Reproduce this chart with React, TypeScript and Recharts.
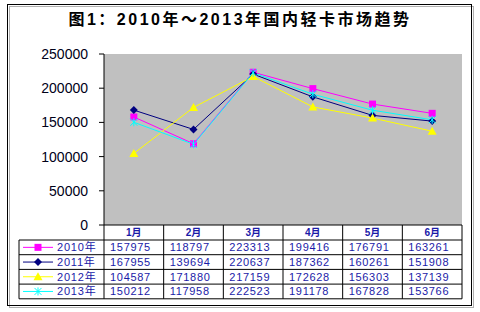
import React from "react";
import {
  LineChart,
  Line,
  XAxis,
  YAxis,
  CartesianGrid,
} from "recharts";

const months = ["1月", "2月", "3月", "4月", "5月", "6月"];
const sales2010 = [157975, 118797, 223313, 199416, 176791, 163261];
const sales2011 = [167955, 139694, 220637, 187362, 160261, 151908];
const sales2012 = [104587, 171880, 217159, 172628, 156303, 137139];
const sales2013 = [150212, 117958, 222523, 191178, 167828, 153766];
const yTicks = [0, 50000, 100000, 150000, 200000, 250000];

type Shape = "square" | "diamond" | "triangle" | "star";

const series: { key: string; name: string; color: string; shape: Shape; values: number[] }[] = [
  { key: "y2010", name: "2010年", color: "#FF00FF", shape: "square", values: sales2010 },
  { key: "y2011", name: "2011年", color: "#000080", shape: "diamond", values: sales2011 },
  { key: "y2012", name: "2012年", color: "#FFFF00", shape: "triangle", values: sales2012 },
  { key: "y2013", name: "2013年", color: "#00FFFF", shape: "star", values: sales2013 },
];

const data = months.map((m, i) => {
  const row: Record<string, string | number> = { month: m };
  series.forEach((s) => (row[s.key] = s.values[i]));
  return row;
});

const W = 480;
const H = 312;
const PLOT_L = 104;
const PLOT_R = 462;
const PLOT_T = 54;
const PLOT_B = 225;
const HEAD_B = 240;
const ROW_H = 14.7;
const TABLE_L = 19;
const TEXT_BLUE = "#1A1AA8";
const CJK = "'Liberation Sans', Arial, 'Noto Sans CJK SC', sans-serif";

function Marker({ cx, cy, shape, color }: { cx: number; cy: number; shape: Shape; color: string }) {
  if (cx == null || cy == null) return null;
  if (shape === "square") {
    return <rect x={cx - 3.5} y={cy - 3.5} width={7} height={7} fill={color} />;
  }
  if (shape === "diamond") {
    return (
      <polygon
        points={`${cx},${cy - 4} ${cx + 4},${cy} ${cx},${cy + 4} ${cx - 4},${cy}`}
        fill={color}
      />
    );
  }
  if (shape === "triangle") {
    return (
      <polygon
        points={`${cx},${cy - 4.5} ${cx + 4.5},${cy + 3.5} ${cx - 4.5},${cy + 3.5}`}
        fill={color}
      />
    );
  }
  return (
    <g stroke={color} strokeWidth={1}>
      <line x1={cx - 3.5} y1={cy - 3.5} x2={cx + 3.5} y2={cy + 3.5} />
      <line x1={cx - 3.5} y1={cy + 3.5} x2={cx + 3.5} y2={cy - 3.5} />
      <line x1={cx} y1={cy - 4} x2={cx} y2={cy + 4} />
    </g>
  );
}

function MonthTick(props: any) {
  const { x, payload } = props;
  return (
    <text
      x={x}
      y={PLOT_B + 11}
      textAnchor="middle"
      fontSize={10}
      fontWeight="bold"
      fill={TEXT_BLUE}
      fontFamily={CJK}
    >
      {payload.value}
    </text>
  );
}

function Table() {
  const colW = (PLOT_R - PLOT_L) / months.length;
  const rowTop = (i: number) => HEAD_B + i * ROW_H;
  const tableB = rowTop(series.length);
  return (
    <g>
      {/* header row verticals */}
      {months.map((_, i) => (
        <line
          key={"v" + i}
          x1={PLOT_L + i * colW}
          y1={PLOT_B}
          x2={PLOT_L + i * colW}
          y2={tableB}
          stroke="#000"
        />
      ))}
      <line x1={PLOT_R} y1={PLOT_B} x2={PLOT_R} y2={tableB} stroke="#000" />
      <line x1={TABLE_L} y1={HEAD_B} x2={TABLE_L} y2={tableB} stroke="#000" />
      {series.map((_, r) => (
        <line
          key={"h" + r}
          x1={TABLE_L}
          y1={rowTop(r)}
          x2={PLOT_R}
          y2={rowTop(r)}
          stroke="#000"
        />
      ))}
      <line x1={TABLE_L} y1={tableB} x2={PLOT_R} y2={tableB} stroke="#000" />
      {series.map((s, r) => {
        const cy = rowTop(r) + ROW_H / 2;
        return (
          <g key={s.key}>
            <line x1={23} y1={cy} x2={53} y2={cy} stroke={s.color} strokeWidth={1} />
            <Marker cx={38} cy={cy} shape={s.shape} color={s.color} />
            <text
              x={57}
              y={cy + 4}
              fontSize={11}
              letterSpacing={0.8}
              fill={TEXT_BLUE}
              fontFamily={CJK}
            >
              {s.name}
            </text>
            {s.values.map((v, c) => (
              <text
                key={c}
                x={PLOT_L + c * colW + 6}
                y={cy + 4}
                fontSize={11}
                letterSpacing={0.7}
                fill={TEXT_BLUE}
                fontFamily={CJK}
              >
                {v}
              </text>
            ))}
          </g>
        );
      })}
    </g>
  );
}

export default function App() {
  return (
    <div
      style={{
        position: "absolute",
        left: 0,
        top: 0,
        width: W,
        height: H,
        background: "#fff",
      }}
    >
      <LineChart
        width={W}
        height={H}
        data={data}
        margin={{ top: PLOT_T, right: W - PLOT_R, bottom: H - PLOT_B - 15, left: PLOT_L - 70 }}
      >
        <CartesianGrid fill="#C0C0C0" horizontal={false} vertical={false} stroke="none" />
        <XAxis
          dataKey="month"
          scale="band"
          height={15}
          axisLine={{ stroke: "#000" }}
          tickLine={false}
          tick={<MonthTick />}
          interval={0}
        />
        <YAxis
          width={70}
          domain={[0, 250000]}
          ticks={yTicks}
          interval={0}
          axisLine={{ stroke: "#000" }}
          tickLine={{ stroke: "#000" }}
          tickSize={5}
          tickMargin={11}
          tick={{ fill: "#000018", fontSize: 14, fontFamily: "'Liberation Sans', Arial, sans-serif" }}
        />
        {series.map((s) => (
          <Line
            key={s.key}
            dataKey={s.key}
            name={s.name}
            type="linear"
            stroke={s.color}
            strokeWidth={1}
            isAnimationActive={false}
            dot={(p: any) => (
              <Marker key={s.key + p.index} cx={p.cx} cy={p.cy} shape={s.shape} color={s.color} />
            )}
            activeDot={false}
          />
        ))}
      </LineChart>
      <svg
        width={W}
        height={H}
        style={{ position: "absolute", left: 0, top: 0, pointerEvents: "none" }}
      >
        <rect x={9.5} y={6.5} width={464} height={301} fill="none" stroke="#B0B0B0" />
        <rect x={7.5} y={4.5} width={464} height={301} fill="none" stroke="#000" />
        <text
          x={240}
          y={25}
          textAnchor="middle"
          fontSize={16}
          fontWeight="bold"
          letterSpacing={2.5}
          fill="#000"
          fontFamily="'Liberation Sans', Arial, 'Noto Sans CJK SC', sans-serif"
        >
          图1：2010年～2013年国内轻卡市场趋势
        </text>
        <Table />
      </svg>
    </div>
  );
}
